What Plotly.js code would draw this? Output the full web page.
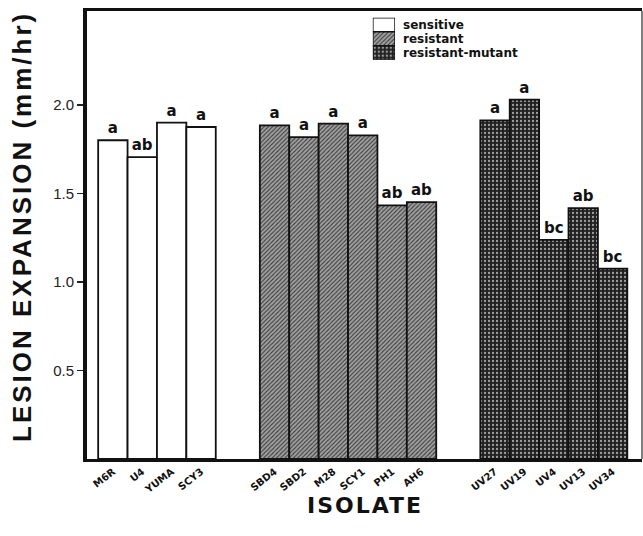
<!DOCTYPE html>
<html>
<head>
<meta charset="utf-8">
<script src="https://cdn.plot.ly/plotly-3.0.1.min.js"></script>
<style>html,body{margin:0;padding:0;background:#fff;}#chart{width:643px;height:536px;}</style>
</head>
<body>
<div id="chart"></div>
<script>
// Data
const sensitiveIsolates = ["M6R", "U4", "YUMA", "SCY3"];
const sensitiveValues = [1.80, 1.705, 1.90, 1.875];
const sensitiveLetters = ["a", "ab", "a", "a"];

const resistantIsolates = ["SBD4", "SBD2", "M28", "SCY1", "PH1", "AH6"];
const resistantValues = [1.884, 1.818, 1.894, 1.828, 1.432, 1.451];
const resistantLetters = ["a", "a", "a", "a", "ab", "ab"];

const mutantIsolates = ["UV27", "UV19", "UV4", "UV13", "UV34"];
const mutantValues = [1.912, 2.029, 1.238, 1.417, 1.075];
const mutantLetters = ["a", "a", "bc", "ab", "bc"];

const groupNames = ["sensitive", "resistant", "resistant-mutant"];
const yTickVals = [0.5, 1.0, 1.5, 2.0];
const yTickText = ["0.5", "1.0", "1.5", "2.0"];

// layout: where each group starts along the x axis (in bar widths)
const groupStart = [0, 5.5, 13];
const pos = (start, arr) => arr.map((_, i) => start + i);

const xS = pos(groupStart[0], sensitiveIsolates);
const xR = pos(groupStart[1], resistantIsolates);
const xM = pos(groupStart[2], mutantIsolates);

const labelFont = {family: "DejaVu Sans", size: 15, color: "#111", weight: "bold"};
const lineStyle = {color: "#111", width: 1.8};

const styles = [
  {color: "#ffffff", line: lineStyle},
  {color: "#9a9a9a", line: lineStyle,
   pattern: {shape: "/", bgcolor: "#a2a2a2", fgcolor: "#3a3a3a", size: 3, solidity: 0.35}},
  {color: "#333333", line: lineStyle,
   pattern: {shape: ".", bgcolor: "#222222", fgcolor: "#a0a0a0", size: 4, solidity: 0.25}}
];

const mk = (name, x, y, text, st) => ({
  type: "bar", name: name, x: x, y: y, width: 1,
  text: text, textposition: "outside", cliponaxis: false, constraintext: "none",
  textfont: labelFont, marker: st, showlegend: false, hoverinfo: "skip"
});

const traces = [
  mk(groupNames[0], xS, sensitiveValues, sensitiveLetters, styles[0]),
  mk(groupNames[1], xR, resistantValues, resistantLetters, styles[1]),
  mk(groupNames[2], xM, mutantValues, mutantLetters, styles[2])
];

// legend swatches (one small horizontal bar per group on an inset axis)
groupNames.forEach((g, i) => {
  traces.push({
    type: "bar", orientation: "h", x: [1], y: [g], xaxis: "x2", yaxis: "y2",
    marker: {color: styles[i].color, line: {color: "#111", width: 1.5}, pattern: styles[i].pattern},
    showlegend: false, hoverinfo: "skip"
  });
});

const legendTop = 0.985, legendRow = 14 / 448;

const layout = {
  width: 643, height: 536,
  margin: {l: 87, r: 1, t: 11, b: 77},
  paper_bgcolor: "#ffffff", plot_bgcolor: "#ffffff",
  bargap: 0,
  showlegend: false,
  xaxis: {
    range: [-0.88, 18.0],
    tickmode: "array",
    tickvals: xS.concat(xR, xM),
    ticktext: sensitiveIsolates.concat(resistantIsolates, mutantIsolates),
    tickangle: -38,
    tickfont: {family: "DejaVu Sans", size: 10, color: "#111", weight: "bold"},
    ticks: "", showgrid: false, zeroline: false,
    showline: true, linecolor: "#111", linewidth: 3, mirror: true
  },
  yaxis: {
    range: [0, 2.53],
    tickmode: "array", tickvals: yTickVals, ticktext: yTickText,
    ticks: "outside", ticklen: 6, tickwidth: 1.5, tickcolor: "#222",
    tickfont: {family: "Liberation Sans", size: 15, color: "#222"},
    showgrid: false, zeroline: false,
    showline: true, linecolor: "#111", linewidth: 4
  },
  xaxis2: {domain: [0.515, 0.555], range: [0, 1], anchor: "y2", visible: false, fixedrange: true},
  yaxis2: {domain: [legendTop - 3 * legendRow, legendTop], anchor: "x2", visible: false,
           autorange: "reversed", type: "category", fixedrange: true},
  shapes: [
    {type: "line", xref: "paper", yref: "paper", x0: 1, x1: 1, y0: 0, y1: 1,
     line: {color: "#555", width: 1.5}}
  ],
  annotations: groupNames.map((g, i) => ({
    text: g, xref: "paper", yref: "paper",
    x: 0.566, y: legendTop - (i + 0.5) * legendRow, xanchor: "left", yanchor: "middle",
    showarrow: false,
    font: {family: "DejaVu Sans", size: 12, color: "#111", weight: "bold"}
  })).concat([
    {text: "<span style=\"letter-spacing:3px\">LESION EXPANSION (mm/hr)</span>",
     xref: "paper", yref: "paper",
     x: -0.117, y: 0.518, xanchor: "center", yanchor: "middle", textangle: -90,
     showarrow: false,
     font: {family: "Liberation Sans", size: 26, color: "#111", weight: "bold"}},
    {text: "<span style=\"letter-spacing:2px\">ISOLATE</span>", xref: "paper", yref: "paper",
     x: 0.5, y: -0.103, xanchor: "center", yanchor: "middle",
     showarrow: false,
     font: {family: "DejaVu Sans", size: 22, color: "#111", weight: "bold"}}
  ])
};

Plotly.newPlot("chart", traces, layout, {displayModeBar: false, staticPlot: true});
</script>
</body>
</html>
